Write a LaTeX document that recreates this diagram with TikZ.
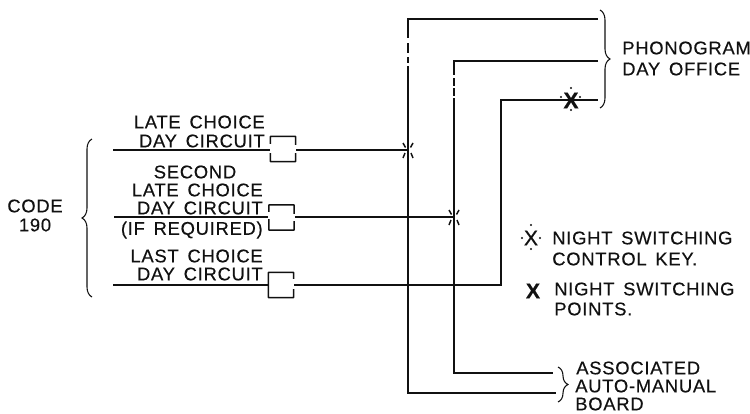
\documentclass[tikz,border=0pt]{standalone}
\usepackage{fontspec}
\setmainfont[LetterSpace=4,WordSpace=1.5,FakeBold=0.35]{Liberation Sans}
\usepackage{xcolor}
\usetikzlibrary{decorations.pathreplacing}
\definecolor{inkc}{HTML}{111111}

\begin{document}
\begin{tikzpicture}[
  x=0.75pt,
  y=-0.75pt,
  every node/.style={font=\fontsize{13.8}{15}\selectfont, text=inkc, inner sep=0pt},
  wire/.style={draw=inkc, line width=1.1pt},
  heavy/.style={draw=inkc, line width=1.9pt},
  gapline/.style={draw=white, line width=2.4pt},
  relay/.style={draw=inkc, line width=1.2pt, rounded corners=0.5pt, minimum width=19pt, minimum height=19pt},
  codebrace/.style={draw=inkc, line width=0.8pt, decorate, decoration={brace, amplitude=7.5pt, aspect=0.5}},
  side/.style={anchor=west},
  right label/.style={anchor=east},
  bigx/.style={font=\fontsize{16}{16}\selectfont\bfseries},
  keydot/.style={circle, fill=inkc, minimum size=1.6pt}
]
\useasboundingbox (0,0) rectangle (750,414);

% relay boxes
\node[relay] (box1) at (283,149) {};
\node[relay] (box2) at (281.5,217.5) {};
\node[relay] (box3) at (281,285) {};

% break in the box sides round the wire
\draw[gapline] (270,144) -- (270,153);
\draw[gapline] (296,145) -- (296,153);
\draw[gapline] (269,212) -- (269,219);
\draw[gapline] (294,214) -- (294,221);
\draw[gapline] (293,279) -- (293,289);

% free ends
\coordinate (in1) at (113,150);
\coordinate (in2) at (114,217);
\coordinate (in3) at (113,285);
\coordinate (top1) at (408,19);
\coordinate (top2) at (454,61);
\coordinate (top3) at (501,100);
\coordinate (end1) at (598,19);
\coordinate (end2) at (598,61);
\coordinate (end3) at (598,100);
\coordinate (low1) at (408,393);
\coordinate (low2) at (454,373);
\coordinate (out1) at (556,393);
\coordinate (out2) at (553,373);
\coordinate (cross1) at (408,150);
\coordinate (cross2) at (454,217);
\coordinate (bend3) at (501,285);

% circuits
\draw[wire] (in1) -- (in1 -| box1.west);
\draw[wire] (in2) -- (in2 -| box2.west);
\draw[wire] (in3) -- (in3 -| box3.west);
\draw[wire] (cross1 -| box1.east) -- (cross1);
\draw[wire] (cross2 -| box2.east) -- (cross2);
\draw[wire] (bend3 -| box3.east) -- (bend3) -- (top3);

% trunks
\draw[wire] (end1) -- (top1) -- (low1) -- (out1);
\draw[wire] (end2) -- (top2) -- (low2) -- (out2);
\draw[wire] (top3) -- (end3);

% heavier tops
\draw[gapline] (408,38) -- (408,43) (408,53) -- (408,57) (408,63) -- (408,66);
\draw[gapline] (454,75) -- (454,78) (454,86) -- (454,88) (454,96) -- (454,98);
\draw[heavy] (408,20) -- (408,38) (408,43) -- (408,53) (408,57) -- (408,63);
\draw[heavy] (454,60) -- (454,74) (454,79) -- (454,85) (454,88) -- (454,96);
\draw[heavy] (454,61) -- (560,61);
\draw[heavy] (501,99) -- (501,113) (500,100) -- (552,100);

% night switching points
\foreach \px/\py in {408/150, 454/217}{
  \draw[inkc, line width=1.1pt] (\px-5,\py-7) -- (\px-2.5,\py-2.5) (\px+5,\py-7) -- (\px+2.5,\py-2.5)
    (\px-5,\py+8) -- (\px-3,\py+3) (\px+5,\py+8) -- (\px+3,\py+3);
}

% key on the last line
\node[bigx, font=\fontsize{17}{17}\selectfont\bfseries] (keyx) at (571,100.5) {X};
\node[keydot] (kd1) at (571,88) {};
\node[keydot] (kd2) at (571,110) {};
\node[keydot] (kd3) at (561,97) {};
\node[keydot] (kd4) at (580,97) {};

% braces
\coordinate (code top) at (92,139);
\coordinate (code low) at (92,297);
\draw[codebrace] (code low) -- (code top);
\coordinate (ph top) at (600,10);
\coordinate (ph low) at (600,108);
\draw[codebrace] (ph top) -- (ph low);
\coordinate (as top) at (558,367);
\coordinate (as low) at (558,402);
\draw[codebrace] (as top) -- (as low);

% labels
\node (code) at (35,206) {CODE};
\node (code190) at (35,225) {190};
\node[side] (ph1) at (622,48) {PHONOGRAM};
\node[side] (ph2) at (622,69) {DAY OFFICE};
\node[right label] (l1a) at (265,122) {LATE CHOICE};
\node[right label] (l1b) at (265,141) {DAY CIRCUIT};
\node (l2a) at (195,172) {SECOND};
\node[right label] (l2b) at (263,190) {LATE CHOICE};
\node[right label] (l2c) at (263,208) {DAY CIRCUIT};
\node[right label] (l2d) at (263,230) {(IF REQUIRED)};
\node[right label] (l3a) at (263,256) {LAST CHOICE};
\node[right label] (l3b) at (263,274) {DAY CIRCUIT};

% legend
\node[font=\fontsize{16}{16}\selectfont] (lgx1) at (531,238) {X};
\node[keydot] (ld1) at (531,225) {};
\node[keydot] (ld2) at (531,249) {};
\node[keydot] (ld3) at (522,238) {};
\node[keydot] (ld4) at (540,238) {};
\node[side] (lg1) at (552,238) {NIGHT SWITCHING};
\node[side] (lg2) at (552,259) {CONTROL KEY.};
\node[bigx] (lgx2) at (533,291) {X};
\node[side] (lg3) at (554,289) {NIGHT SWITCHING};
\node[side] (lg4) at (554,309) {POINTS.};
\node[side] (as1) at (576,368) {ASSOCIATED};
\node[side] (as2) at (575,386) {AUTO-MANUAL};
\node[side] (as3) at (575,404) {BOARD};
\end{tikzpicture}
\end{document}
